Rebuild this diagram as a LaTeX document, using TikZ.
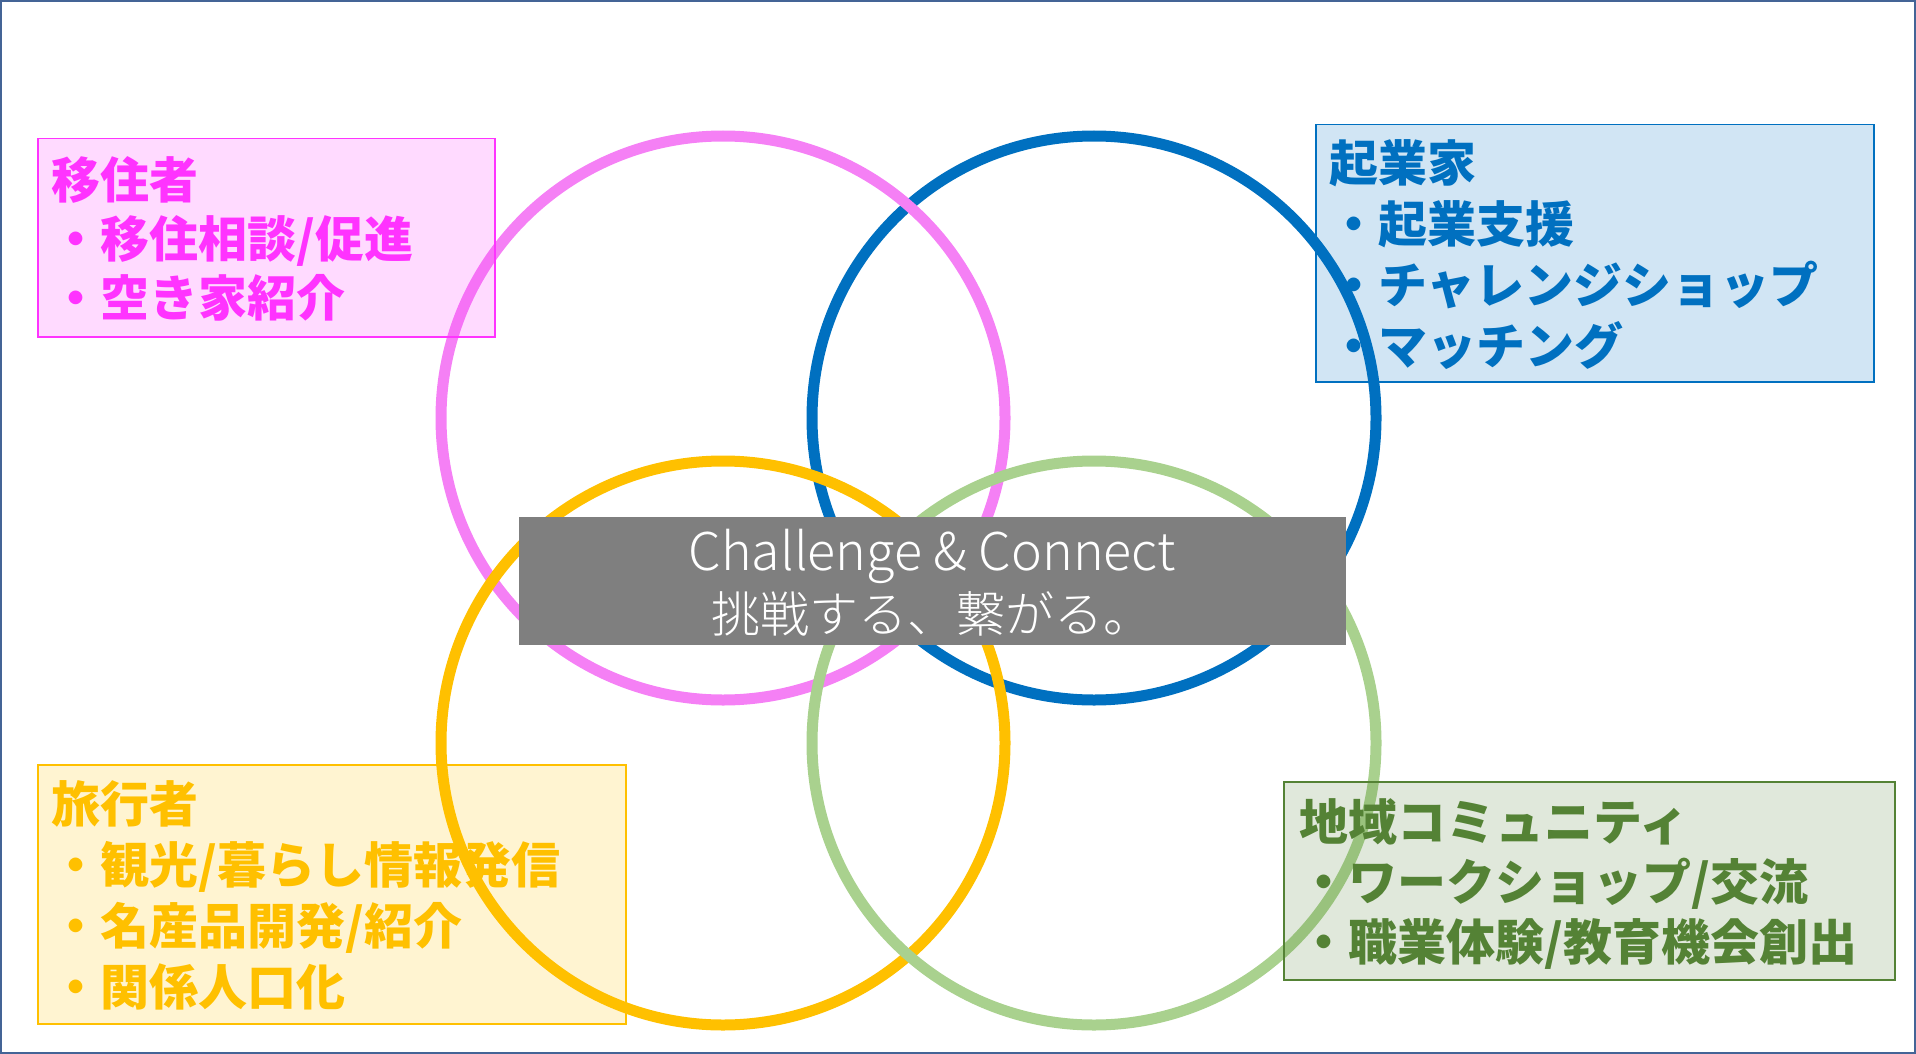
\documentclass[tikz,border=0pt]{standalone}
\usepackage{fontspec}
\setmainfont{Noto Sans CJK JP}
\newfontfamily\corefont{Noto Sans CJK JP Light}
\definecolor{pinkT}{RGB}{255,51,255}
\definecolor{pinkC}{RGB}{245,128,245}
\definecolor{blueT}{RGB}{0,112,192}
\definecolor{yellowT}{RGB}{255,192,0}
\definecolor{greenT}{RGB}{84,130,53}
\definecolor{greenC}{RGB}{169,209,142}
\definecolor{coreGray}{RGB}{127,127,127}
\definecolor{frameC}{RGB}{68,100,150}
\tikzset{
  ring/.style={line width=11pt},
  infobox/.style={draw, line width=1.5pt, anchor=north west, inner sep=0pt, fill opacity=0.18, draw opacity=1},
  itext/.style={anchor=base west, inner sep=0pt, font=\fontsize{49}{60}\selectfont\bfseries},
  coretext/.style={anchor=base, inner sep=0pt, text=white, font=\corefont\fontsize{49}{59}\selectfont},
}
\begin{document}
\begin{tikzpicture}[x=1pt,y=-1pt]
\useasboundingbox (0,0) rectangle (1916,1054);
\draw[frameC, line width=2pt] (1,1) rectangle (1915,1053);
% circles
\draw[ring, blueT] (1094,418) circle[radius=282pt];
\draw[ring, pinkC] (723,418) circle[radius=282pt];
\draw[ring, yellowT] (723,743) circle[radius=282pt];
\draw[ring, greenC] (1094,743) circle[radius=282pt];
% boxes
\node[infobox, draw=pinkT, fill=pinkT, minimum width=457pt, minimum height=198pt] (pinkbox) at (37,138) {};
\node[infobox, draw=blueT, fill=blueT, minimum width=558pt, minimum height=257pt] (bluebox) at (1315,124) {};
\node[infobox, draw=yellowT, fill=yellowT, minimum width=588pt, minimum height=259pt] (yellowbox) at (37,764) {};
\node[infobox, draw=greenT, fill=greenT, minimum width=611pt, minimum height=198pt] (greenbox) at (1283,781) {};
% pink text
\node[itext, text=pinkT] (p0) at (51,198) {移住者};
\node[itext, text=pinkT] (p1) at (51,257) {・移住相談/促進};
\node[itext, text=pinkT] (p2) at (51,316) {・空き家紹介};
% blue text
\node[itext, text=blueT] (b0) at (1329,181) {起業家};
\node[itext, text=blueT] (b1) at (1329,242) {・起業支援};
\node[itext, text=blueT] (b2) at (1329,303) {・チャレンジショップ};
\node[itext, text=blueT] (b3) at (1329,364) {・マッチング};
% yellow text
\node[itext, text=yellowT] (y0) at (51,822) {旅行者};
\node[itext, text=yellowT] (y1) at (51,883) {・観光/暮らし情報発信};
\node[itext, text=yellowT] (y2) at (51,944) {・名産品開発/紹介};
\node[itext, text=yellowT] (y3) at (51,1005) {・関係人口化};
% green text
\node[itext, text=greenT] (g0) at (1299,840) {地域コミュニティ};
\node[itext, text=greenT] (g1) at (1299,900) {・ワークショップ/交流};
\node[itext, text=greenT] (g2) at (1299,960) {・職業体験/教育機会創出};
% core
\node[fill=coreGray, anchor=north west, inner sep=0pt, minimum width=827pt, minimum height=128pt] (core) at (519,517) {};
\node[coretext, font=\corefont\fontsize{52}{59}\selectfont] (c1) at (932,570) {Challenge \& Connect};
\node[coretext] (c2) at (932,632) {挑戦する、繋がる。};
\end{tikzpicture}
\end{document}
